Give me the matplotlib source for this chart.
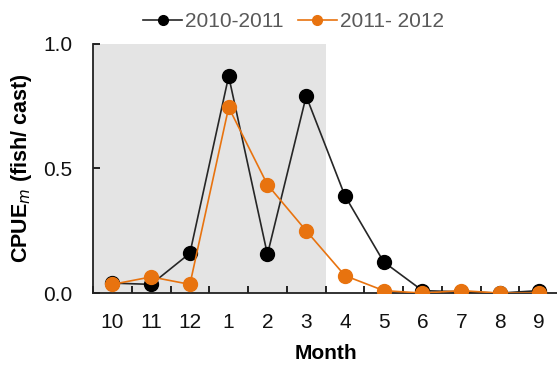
import matplotlib.pyplot as plt

plt.rcParams['font.family'] = ['Liberation Sans', 'DejaVu Sans']

months = ['10', '11', '12', '1', '2', '3', '4', '5', '6', '7', '8', '9']
cpue_2010 = [0.04, 0.035, 0.16, 0.87, 0.155, 0.79, 0.39, 0.125, 0.01, 0.005, 0.0, 0.01]
cpue_2011 = [0.035, 0.065, 0.035, 0.745, 0.435, 0.25, 0.07, 0.01, 0.0, 0.01, 0.0, 0.0]
shade_until = '3'

x = list(range(len(months)))
orange = '#E8730F'

fig = plt.figure(figsize=(5.57, 3.65), dpi=100)
ax = fig.add_axes([0.167, 0.197, 0.835, 0.683])

ax.axvspan(-0.5, months.index(shade_until) + 0.5, ymin=0, ymax=1, color='#E4E4E4', zorder=0, lw=0)

ax.plot(x, cpue_2010, '-o', color='#262626', mfc='black', mec='black', ms=10, lw=1.2,
        label='2010-2011', zorder=3)
ax.plot(x, cpue_2011, '-o', color=orange, mfc=orange, mec=orange, ms=10, lw=1.2,
        label='2011- 2012', zorder=4)

ax.set_xlim(-0.5, 11.42)
ax.set_ylim(0, 1.0)
ax.set_yticks([0.0, 0.5, 1.0])
ax.set_yticklabels(['0.0', '0.5', '1.0'])
ax.set_xticks(x)
ax.set_xticklabels(months)
ax.set_xticks([i + 0.5 for i in range(-1, 12)], minor=True)
ax.tick_params(axis='x', which='major', length=0, labelsize=15, pad=14, labelcolor='#111111')
ax.tick_params(axis='x', which='minor', direction='in', length=5, width=1.2)
ax.tick_params(axis='y', direction='in', length=5, width=1.2, labelsize=15, pad=15,
               labelcolor='#111111')

for s in ['top', 'right']:
    ax.spines[s].set_visible(False)
for s in ['left', 'bottom']:
    ax.spines[s].set_linewidth(1.3)
    ax.spines[s].set_color('#222222')

ax.set_xlabel('Month', fontsize=15, fontweight='bold', labelpad=9)
ax.set_ylabel(r'CPUE$_{m}$ (fish/ cast)', fontsize=15.5, fontweight='bold')
ax.yaxis.set_label_coords(-0.127, 0.5)

leg = ax.legend(loc='center', bbox_to_anchor=(0.431, 1.09), ncol=2, frameon=False,
                fontsize=15, handlelength=1.85, handletextpad=0.15, columnspacing=0.7,
                markerscale=0.7, borderpad=0, borderaxespad=0)
for t in leg.get_texts():
    t.set_color('#595959')

fig.savefig('out.png', dpi=100)
